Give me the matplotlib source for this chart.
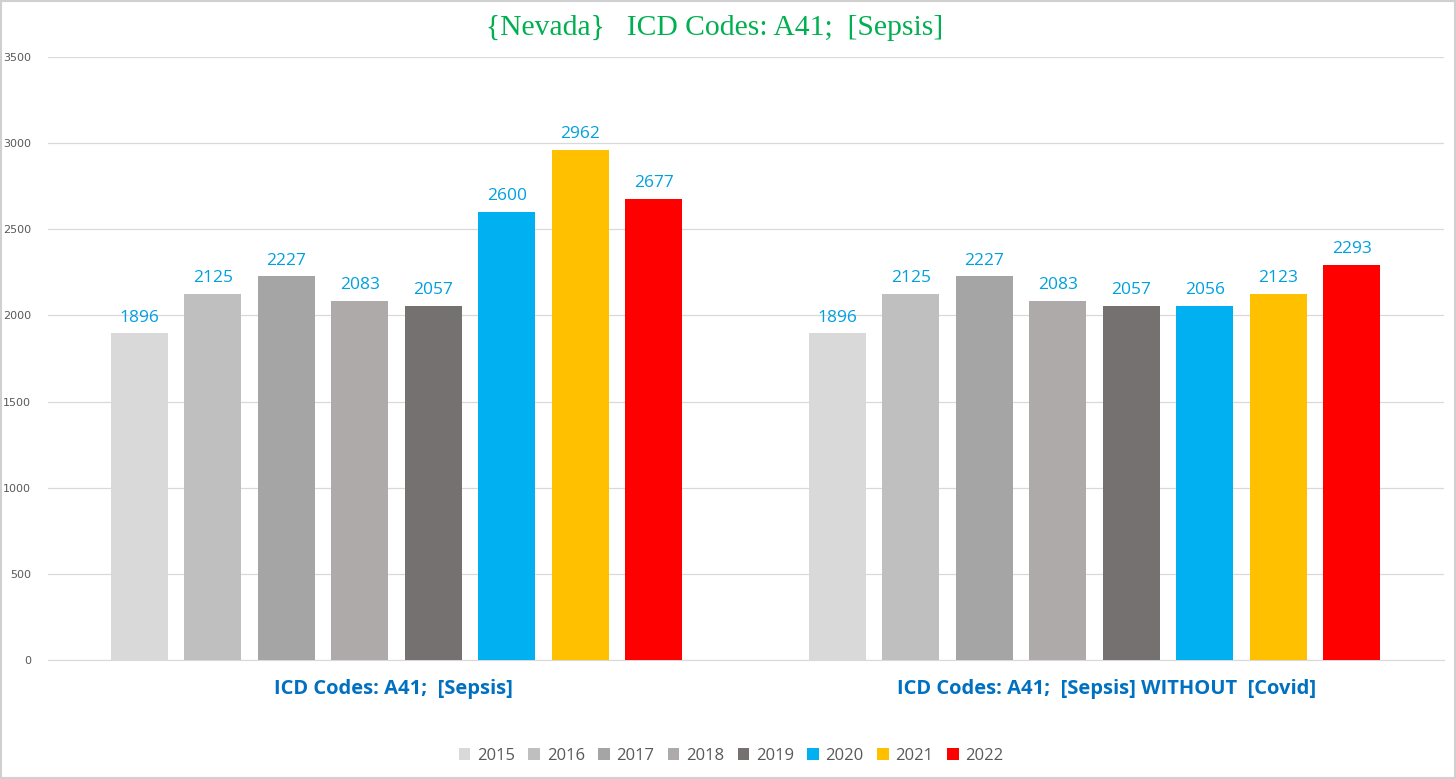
import matplotlib.pyplot as plt
import matplotlib.transforms as mtransforms
from matplotlib.patches import Rectangle
import numpy as np

years = ['2015', '2016', '2017', '2018', '2019', '2020', '2021', '2022']
groups = ['ICD Codes: A41;  [Sepsis]', 'ICD Codes: A41;  [Sepsis] WITHOUT  [Covid]']
sepsis = [1896, 2125, 2227, 2083, 2057, 2600, 2962, 2677]
sepsis_no_covid = [1896, 2125, 2227, 2083, 2057, 2056, 2123, 2293]
colors = ['#D9D9D9', '#BFBFBF', '#A5A5A5', '#AEAAAA', '#767171', '#00B0F0', '#FFC000', '#FF0000']

fig = plt.figure(figsize=(14.56, 7.79), dpi=100)
ax = fig.add_axes([47.5/1456, 1 - 660/779, 1396/1456, 603/779])

x = np.arange(len(groups))
pitch = 0.1053
width = 0.082
for i, yr in enumerate(years):
    vals = [sepsis[i], sepsis_no_covid[i]]
    pos = x + (i - 3.5) * pitch
    bars = ax.bar(pos, vals, width, color=colors[i], label=yr, zorder=3)
    for b, v in zip(bars, vals):
        ax.text(b.get_x() + b.get_width()/2, v + 45, str(v), ha='center', va='bottom',
                color='#00A0E0', fontsize=12.5, family='Open Sans')

ax.set_xlim(-0.5, 1.5)
ax.set_ylim(0, 3500)
ax.set_yticks(range(0, 3501, 500))
ax.yaxis.grid(True, color='#D9D9D9', linewidth=0.9, zorder=0)
ax.tick_params(axis='y', length=0, labelsize=8, labelcolor='#595959', pad=12)
ax.set_xticks(x)
ax.set_xticklabels(groups, fontsize=14.5, fontweight='bold', color='#0070C0', family='Open Sans')
ax.tick_params(axis='x', length=0, pad=14)
# excel puts the labels a bit off centre
shifts = [-3, 12]
for lab, dx in zip(ax.get_xticklabels(), shifts):
    lab.set_transform(lab.get_transform() + mtransforms.ScaledTranslation(dx/100, 0, fig.dpi_scale_trans))
for s in ['top', 'right', 'left']:
    ax.spines[s].set_visible(False)
ax.spines['bottom'].set_color('#D9D9D9')

fig.text(715/1456, 1 - 28/779, '{Nevada}   ICD Codes: A41;  [Sepsis]', ha='center', va='center',
         color='#00B050', fontsize=21.3, family='Liberation Serif')

leg = fig.legend(loc='center', bbox_to_anchor=(731/1456, 1 - 756/779), ncol=8, frameon=False,
                 handlelength=0.7, handleheight=0.7, handletextpad=0.4,
                 columnspacing=0.8, prop={'family': 'Open Sans', 'size': 12})
for t in leg.get_texts():
    t.set_color('#595959')

fig.patches.append(Rectangle((0.001, 0.001), 0.998, 0.998, transform=fig.transFigure,
                             fill=False, edgecolor='#D0D0D0', linewidth=1.5))

fig.savefig('out.png', dpi=100)
